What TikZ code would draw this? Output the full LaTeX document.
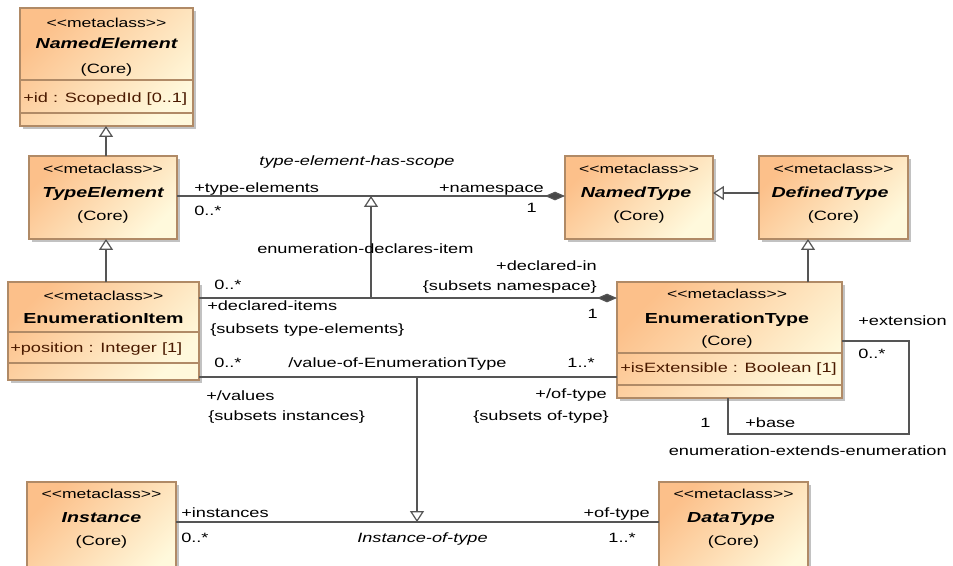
\documentclass[tikz,border=0pt]{standalone}
\usepackage{fontspec}
\setmainfont{Liberation Sans}[FakeStretch=1.35,Ligatures=TeXOff]
\usetikzlibrary{arrows.meta,shadows}
\definecolor{clsA}{HTML}{FCC08A}
\definecolor{clsB}{HTML}{FFF9DC}
\definecolor{clsline}{HTML}{B08A66}
\definecolor{conn}{HTML}{555555}
\definecolor{attrc}{HTML}{4A1A00}
\newcommand\stfont{\fontsize{9.75}{11}\selectfont}
\newcommand\nmfont{\fontsize{10.9}{12}\selectfont}
\newcommand\rgfont{\fontsize{10.1}{12}\selectfont}
\newcommand\mcl{<\kern0pt<metaclass>\kern0pt>}
\newcommand\clsbox[5]{\node[cls, anchor=north west, minimum width={(#4-#2)*0.75pt}, minimum height={(#5-#3)*0.75pt}] (#1) at (#2,#3) {};}
\begin{document}
\begin{tikzpicture}[x=0.75pt,y=-0.75pt,
  cls/.style={draw=clsline, line width=0.9pt, left color=clsA, right color=clsB, shading angle=45,
    outer sep=0pt, inner sep=0pt,
    drop shadow={shadow xshift=2.6pt, shadow yshift=-2.6pt, fill=black!40, opacity=0.6}},
  cmp/.style={draw=clsline, line width=0.9pt},
  stereo/.style={inner sep=0pt, anchor=base, font=\stfont},
  cname/.style={inner sep=0pt, anchor=base, font=\nmfont\bfseries\itshape},
  cnameu/.style={inner sep=0pt, anchor=base, font=\nmfont\bfseries},
  core/.style={inner sep=0pt, anchor=base, font=\rgfont},
  attr/.style={inner sep=0pt, anchor=base west, font=\rgfont, text=attrc},
  lbl/.style={inner sep=0pt, font=\rgfont},
  conline/.style={draw=conn, line width=0.9pt},
  gen/.style={conline, -{Triangle[open, fill=white, length=8.2pt, width=10.5pt]}},
  comp/.style={conline, {Diamond[fill=conn!85!black, length=15pt, width=6.5pt]}-}
]
\useasboundingbox (0,0) rectangle (953,565);
\clip (0,0) rectangle (953,565);

% ---------- classes ----------
\clsbox{ne}{20}{8}{193}{126}
\draw[cmp] (ne.west |- 0,80) -- (ne.east |- 0,80);
\draw[cmp] (ne.west |- 0,113) -- (ne.east |- 0,113);
\node[stereo] (ne-s) at (106.5,27) {\mcl};
\node[cname] (ne-n) at (106.5,48) {NamedElement};
\node[core] (ne-c) at (106.5,73) {(Core)};
\node[attr] (ne-a) at (23,102) {+id : ScopedId [0..1]};

\clsbox{te}{29}{156}{177}{239}
\node[stereo] (te-s) at (103,173) {\mcl};
\node[cname] (te-n) at (103,197) {TypeElement};
\node[core] (te-c) at (103,220) {(Core)};

\clsbox{ei}{8}{282}{199}{380}
\draw[cmp] (ei.west |- 0,332) -- (ei.east |- 0,332);
\draw[cmp] (ei.west |- 0,363) -- (ei.east |- 0,363);
\node[stereo] (ei-s) at (103.5,300) {\mcl};
\node[cnameu] (ei-n) at (103.5,323) {EnumerationItem};
\node[attr] (ei-a) at (10,352) {+position : Integer [1]};

\clsbox{nt}{565}{156}{713}{239}
\node[stereo] (nt-s) at (639,173) {\mcl};
\node[cname] (nt-n) at (636,197) {NamedType};
\node[core] (nt-c) at (639,220) {(Core)};

\clsbox{dt}{759}{156}{908}{239}
\node[stereo] (dt-s) at (833.5,173) {\mcl};
\node[cname] (dt-n) at (830,197) {DefinedType};
\node[core] (dt-c) at (833.5,220) {(Core)};

\clsbox{et}{617}{282}{842}{398}
\draw[cmp] (et.west |- 0,353) -- (et.east |- 0,353);
\draw[cmp] (et.west |- 0,385) -- (et.east |- 0,385);
\node[stereo] (et-s) at (727,298) {\mcl};
\node[cnameu] (et-n) at (727,323) {EnumerationType};
\node[core] (et-c) at (727,345) {(Core)};
\node[attr] (et-a) at (620,372) {+isExtensible : Boolean [1]};

\clsbox{in}{27}{482}{176}{585}
\node[stereo] (in-s) at (101.5,498) {\mcl};
\node[cname] (in-n) at (101.5,522) {Instance};
\node[core] (in-c) at (101.5,545) {(Core)};

\clsbox{da}{659}{482}{808}{585}
\node[stereo] (da-s) at (733.5,498) {\mcl};
\node[cname] (da-n) at (731,522) {DataType};
\node[core] (da-c) at (733.5,545) {(Core)};

% ---------- generalizations ----------
\draw[gen] (te.north -| 106,0) -- (ne.south -| 106,0);
\draw[gen] (ei.north -| 106,0) -- (te.south -| 106,0);
\draw[gen] (dt.west |- 0,193) -- (nt.east |- 0,193);
\draw[gen] (et.north -| 808,0) -- (dt.south -| 808,0);

% ---------- associations ----------
\draw[comp] (nt.west |- 0,196) -- (te.east |- 0,196);
\draw[comp] (et.west |- 0,298) -- (ei.east |- 0,298);
\draw[conline] (ei.east |- 0,377) -- (et.west |- 0,377);
\draw[conline] (in.east |- 0,522) -- (da.west |- 0,522);
\coordinate (j1) at (371,298);
\coordinate (j1t) at (371,196);
\draw[gen] (j1) -- (j1t);
\coordinate (j2) at (417,377);
\coordinate (j2t) at (417,522);
\draw[gen] (j2) -- (j2t);
\draw[conline] (et.east |- 0,341) -- (909,341) -- (909,434) -- (728,434) -- (et.south -| 728,0);

% ---------- labels ----------
\node[lbl, anchor=base, font=\rgfont\itshape] (l1) at (357,165) {type-element-has-scope};
\node[lbl, anchor=base west] (l2) at (194,192) {+type-elements};
\node[lbl, anchor=base west] (l3) at (194,215) {0..*};
\node[lbl, anchor=base east] (l4) at (544,192) {+namespace};
\node[lbl, anchor=base east] (l5) at (537,212) {1};
\node[lbl, anchor=base west] (l6) at (257,253) {enumeration-declares-item};
\node[lbl, anchor=base east] (l7) at (597,270) {+declared-in};
\node[lbl, anchor=base east] (l8) at (597,290) {\{subsets namespace\}};
\node[lbl, anchor=base west] (l9) at (214,289) {0..*};
\node[lbl, anchor=base west] (l10) at (207,310) {+declared-items};
\node[lbl, anchor=base west] (l11) at (210,333) {\{subsets type-elements\}};
\node[lbl, anchor=base east] (l12) at (598,318) {1};
\node[lbl, anchor=base west] (l13) at (214,367) {0..*};
\node[lbl, anchor=base west] (l14) at (288,367) {/value-of-EnumerationType};
\node[lbl, anchor=base east] (l15) at (595,367) {1..*};
\node[lbl, anchor=base west] (l16) at (206,400) {+/values};
\node[lbl, anchor=base west] (l17) at (208,420) {\{subsets instances\}};
\node[lbl, anchor=base east] (l18) at (607,398) {+/of-type};
\node[lbl, anchor=base east] (l19) at (609,420) {\{subsets of-type\}};
\node[lbl, anchor=base west] (l20) at (858,325) {+extension};
\node[lbl, anchor=base west] (l21) at (858,358) {0..*};
\node[lbl, anchor=base west] (l22) at (700,427) {1};
\node[lbl, anchor=base west] (l23) at (745,427) {+base};
\node[lbl, anchor=base east] (l24) at (947,455) {enumeration-extends-enumeration};
\node[lbl, anchor=base west] (l25) at (181,517) {+instances};
\node[lbl, anchor=base west] (l26) at (181,542) {0..*};
\node[lbl, anchor=base west, font=\rgfont\itshape] (l27) at (357,542) {Instance-of-type};
\node[lbl, anchor=base east] (l28) at (650,517) {+of-type};
\node[lbl, anchor=base east] (l29) at (636,542) {1..*};
\end{tikzpicture}
\end{document}
